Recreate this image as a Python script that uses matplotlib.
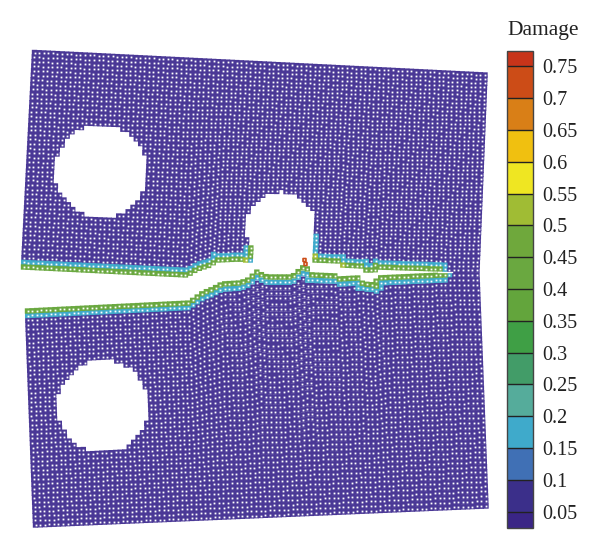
import numpy as np
import matplotlib
matplotlib.use("Agg")
import matplotlib.pyplot as plt
from matplotlib.colors import ListedColormap, BoundaryNorm
from matplotlib.cm import ScalarMappable

# colour scale
levels = [0.025, 0.05, 0.1, 0.15, 0.2, 0.25, 0.3, 0.35, 0.4, 0.45, 0.5, 0.55, 0.6, 0.65, 0.7, 0.75, 0.775]
colors = ["#3a2586", "#3b2f8a", "#4070b5", "#3faacb", "#55ac9b", "#429c68", "#3f9f45", "#63a53c",
          "#6aa840", "#6fa83c", "#a0bc34", "#efe622", "#f0c010", "#d97f17", "#cc4c17", "#c8341a"]
tick_values = [0.05, 0.1, 0.15, 0.2, 0.25, 0.3, 0.35, 0.4, 0.45, 0.5, 0.55, 0.6, 0.65, 0.7, 0.75]
tick_labels = ["0.05", "0.1", "0.15", "0.2", "0.25", "0.3", "0.35", "0.4", "0.45", "0.5", "0.55", "0.6", "0.65", "0.7", "0.75"]

# specimen outline (image pixels, cell centres)
top_left = (34.5, 52.5)
top_right = (485, 75)
bottom_right = (486, 506)
bottom_left = (35.5, 525)
waist_x = 477

holes_x = [101, 103, 280.5]
holes_y = [171.5, 406.5, 227.5]
holes_r = [46.5, 46.5, 36.0]
mid_gap_x = (252, 311)
mid_gap_y = 228

# crack faces
upper_face_x = [23.5, 187, 197, 210, 217, 240, 245, 315, 340, 342, 362, 363, 375, 377, 440, 452, 477]
upper_face_y = [267, 275, 269, 265, 260, 259, 260, 260, 261, 265, 266, 270, 270, 267, 269, 270, 270]
lower_face_x = [27.5, 190, 193, 203, 213, 222, 240, 248, 257, 262, 267, 292, 300, 305, 312, 337, 338, 358, 363, 375, 377, 443, 452, 477]
lower_face_y = [311, 303, 300, 293, 289, 284, 283, 280, 272, 275, 277, 277, 270, 266, 275, 276, 279, 278, 284, 285, 278, 275, 274.5, 275]
# sides of the damaged hole rim
rim_left_x = [245, 253, 253]
rim_left_y = [260, 253, 247]
rim_right_x = [312, 312, 315]
rim_right_y = [240, 250, 260]
crack_end_x = 441
tip_line_x = [438, 452]
tip_line_y = [272, 272]

# isolated damaged nodes near the hole
spot_x = [304.5, 305.5]
spot_y = [260, 264]
spot_damage = [0.72, 0.72]
# lime coloured nodes at rim corners
lime_x = [245, 313, 230, 342]
lime_y = [260, 257, 264, 265]

N_COLS = 99
N_ROWS = 48


def dist(px, py, xs, ys):
    xs, ys = np.asarray(xs, float), np.asarray(ys, float)
    d = np.full(px.shape, np.inf)
    for i in range(len(xs) - 1):
        ax_, ay_, bx, by = xs[i], ys[i], xs[i + 1], ys[i + 1]
        l2 = max((bx - ax_) ** 2 + (by - ay_) ** 2, 1e-9)
        t = np.clip(((px - ax_) * (bx - ax_) + (py - ay_) * (by - ay_)) / l2, 0, 1)
        d = np.minimum(d, np.hypot(px - ax_ - t * (bx - ax_), py - ay_ - t * (by - ay_)))
    return d


def piece(edge_a, edge_b, face_x, face_y, face_is_second):
    """Rows run from the straight outer edge to the crack face; the steps of
    the face fade out quickly away from it."""
    u, v = np.meshgrid(np.linspace(0, 1, N_COLS), np.linspace(0, 1, N_ROWS))
    ox = edge_a[0] + u * (edge_b[0] - edge_a[0])
    oy = edge_a[1] + u * (edge_b[1] - edge_a[1])
    fx = face_x[0] + u * (waist_x - face_x[0])
    fy = np.interp(fx, face_x, face_y)
    straight = face_y[0] + u * (face_y[-1] - face_y[0])
    w = v if face_is_second else 1 - v
    return (ox + w * (fx - ox)).ravel(), (oy + w * (straight - oy) + w ** 2 * (fy - straight)).ravel()


ux, uy = piece(top_left, top_right, upper_face_x, upper_face_y, True)
gap = (ux > mid_gap_x[0]) & (ux < mid_gap_x[1]) & (uy > mid_gap_y)
ux, uy = ux[~gap], uy[~gap]
lx, ly = piece(bottom_left, bottom_right, lower_face_x, lower_face_y, False)
x = np.r_[ux, lx]
y = np.r_[uy, ly]

keep = np.ones(x.shape, bool)
for hx, hy, hr in zip(holes_x, holes_y, holes_r):
    keep &= np.hypot(x - hx, y - hy) > hr
x, y = x[keep], y[keep]

ufx, ufy = np.array(upper_face_x), np.array(upper_face_y)
lfx, lfy = np.array(lower_face_x), np.array(lower_face_y)
upper_left_part = ufx <= 245
upper_right_part = (ufx <= crack_end_x) & (ufx >= 315)
lower_part = lfx <= crack_end_x + 3
d = np.minimum.reduce([
    dist(x, y, ufx[upper_left_part], ufy[upper_left_part]),
    dist(x, y, ufx[upper_right_part], ufy[upper_right_part]),
    dist(x, y, lfx[lower_part], lfy[lower_part]),
    dist(x, y, rim_left_x, rim_left_y),
    dist(x, y, rim_right_x, rim_right_y),
])
damage = np.where(d < 2.4, 0.42, np.where(d < 6.9, 0.17, 0.04))
for lxp, lyp in zip(lime_x, lime_y):
    damage[np.hypot(x - lxp, y - lyp) < 2.6] = 0.52

# paint low damage first so the narrow coloured rows stay on top
order = np.argsort(damage)
x, y, damage = x[order], y[order], damage[order]

fig = plt.figure(figsize=(6.0, 5.49), dpi=100)
ax = fig.add_axes([0, 0, 1, 1])
ax.set_xlim(0, 600)
ax.set_ylim(549, 0)
ax.axis("off")

cmap = ListedColormap(colors)
norm = BoundaryNorm(levels, cmap.N)
cell_colors = np.where(damage[:, None] < 0.1, np.array([[0.29, 0.22, 0.59, 1.0]]), cmap(norm(damage)))
cells = ax.scatter(x, y, s=15, marker="s", c=cell_colors, linewidths=0)
cells.set_snap(False)
dots = ax.scatter(x, y, s=1.7, marker="s", c="white", linewidths=0)
dots.set_snap(False)
ax.plot(tip_line_x, tip_line_y, color="white", lw=1.0)
sp = ax.scatter(spot_x, spot_y, s=4.4, marker="s", facecolors="white",
                edgecolors=cmap(norm(spot_damage)), linewidths=1.2)
sp.set_snap(False)

cax = fig.add_axes([507 / 600, 1 - 527.5 / 549, 26 / 600, 477 / 549])
cb = fig.colorbar(ScalarMappable(norm=norm, cmap=cmap), cax=cax, spacing="proportional",
                  drawedges=True, ticks=tick_values)
cb.minorticks_off()
cb.ax.set_yticklabels(tick_labels, family="Liberation Serif", fontsize=14.5, color="#222222")
cb.ax.tick_params(length=0, pad=7)
cb.dividers.set_color("#222222")
cb.dividers.set_linewidth(1.0)
cb.outline.set_edgecolor("#444444")
cb.outline.set_linewidth(1.0)
fig.text(543 / 600, 1 - 30 / 549, "Damage", ha="center", va="center", family="Liberation Serif",
         fontsize=15.5, color="#222222")

fig.savefig("out.png", dpi=100)
